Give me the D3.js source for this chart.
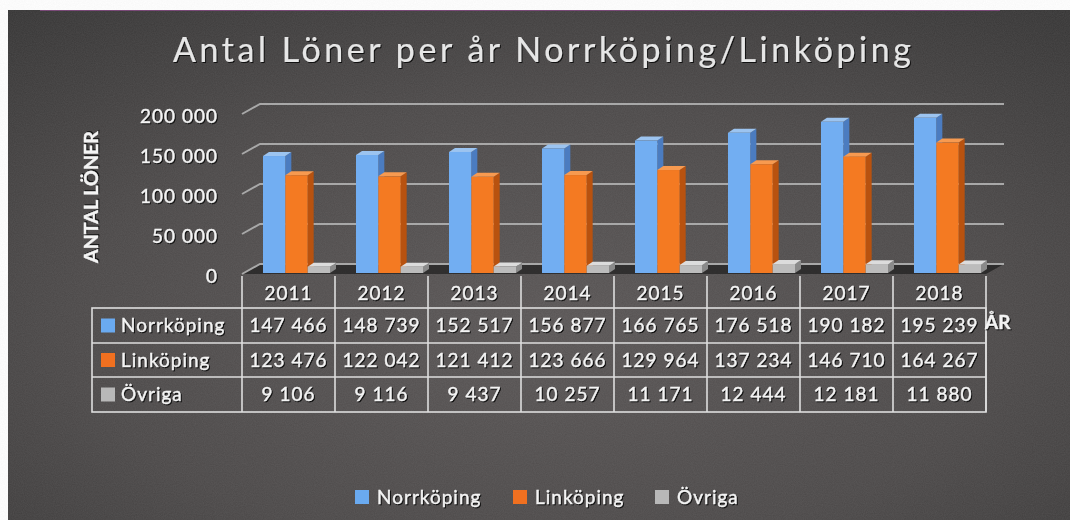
<!DOCTYPE html>
<html>
<head>
<meta charset="utf-8">
<script src="https://cdn.jsdelivr.net/npm/d3@7"></script>
<style>
  body { margin: 0; background: #fff; }
  text { font-family: Lato, "Open Sans", sans-serif; fill: #f4f4f4; }
  .sh { filter: drop-shadow(1px 1px 0.6px #111); stroke: #f4f4f4; stroke-width: 0.45px; }
</style>
</head>
<body>
<div id="chart"></div>
<script>
// data
var years = ["2011", "2012", "2013", "2014", "2015", "2016", "2017", "2018"];
var norrkoping = [147466, 148739, 152517, 156877, 166765, 176518, 190182, 195239];
var linkoping = [123476, 122042, 121412, 123666, 129964, 137234, 146710, 164267];
var ovriga = [9106, 9116, 9437, 10257, 11171, 12444, 12181, 11880];
var seriesNames = ["Norrköping", "Linköping", "Övriga"];
var yTicks = [0, 50000, 100000, 150000, 200000];

var width = 1070, height = 520;
var fmt = v => d3.format(",")(v).replace(/,/g, " ");

var colors = {
  "Norrköping": { front: "#72aef2", side: "#4b7cc0", top: "#9cc4f0", key: "#6aaaf0" },
  "Linköping": { front: "#f47a22", side: "#b8520f", top: "#f79a50", key: "#f07020" },
  "Övriga": { front: "#bcbcbc", side: "#8a8a8a", top: "#dcdcdc", key: "#b8b8b8" }
};
var values = { "Norrköping": norrkoping, "Linköping": linkoping, "Övriga": ovriga };

var svg = d3.select("#chart").append("svg").attr("width", width).attr("height", height);
var defs = svg.append("defs");

var rg = defs.append("radialGradient").attr("id", "bg").attr("cx", "50%").attr("cy", "62%").attr("r", "80%");
rg.append("stop").attr("offset", "0%").attr("stop-color", "#5a5656");
rg.append("stop").attr("offset", "55%").attr("stop-color", "#4c4949");
rg.append("stop").attr("offset", "100%").attr("stop-color", "#363535");

var noise = defs.append("filter").attr("id", "noise");
noise.append("feTurbulence").attr("type", "fractalNoise").attr("baseFrequency", 0.9).attr("numOctaves", 2).attr("seed", 3);
noise.append("feColorMatrix").attr("type", "matrix")
  .attr("values", "0 0 0 0 0.5  0 0 0 0 0.5  0 0 0 0 0.5  0 0 0 0.35 0");

// panel
svg.append("rect").attr("x", 8).attr("y", 10).attr("width", width - 8).attr("height", height - 10).attr("fill", "url(#bg)");
svg.append("rect").attr("x", 8).attr("y", 10).attr("width", width - 8).attr("height", height - 10)
  .attr("filter", "url(#noise)").attr("opacity", 0.35);
svg.append("line").attr("x1", 40).attr("x2", 1000).attr("y1", 10.5).attr("y2", 10.5).attr("stroke", "#7a4a78").attr("stroke-width", 1);

// title
svg.append("text").attr("class", "sh").attr("x", 542).attr("y", 62).attr("text-anchor", "middle")
  .attr("font-size", 34).attr("textLength", 738).attr("lengthAdjust", "spacing")
  .style("fill", "#e6e6e6").style("stroke-width", "0.2px").text("Antal Löner per år Norrköping/Linköping");

// scales (front plane)
var x = d3.scaleBand().domain(years).range([242, 986]);
var xs = d3.scaleBand().domain(seriesNames).range([21, 88]);
var y = d3.scaleLinear().domain([0, 200000]).range([274, 114]);
var wx = 18, wy = -10; // wall depth
var bx = 6, by = -4;   // bar depth

// floor
svg.append("polygon")
  .attr("points", [[242, y(0)], [986, y(0)], [986 + wx, y(0) + wy], [242 + wx, y(0) + wy]].join(" "))
  .attr("fill", "#1e1e1e").attr("opacity", 0.7);

// gridlines
var grid = svg.append("g");
yTicks.forEach(t => {
  grid.append("polyline")
    .attr("points", [[242, y(t)], [242 + wx, y(t) + wy], [986 + wx, y(t) + wy]].join(" "))
    .attr("fill", "none").attr("stroke", "#a8a8a8").attr("stroke-width", 2);
});

// y tick labels
svg.append("g").selectAll("text").data(yTicks).join("text").attr("class", "sh")
  .attr("x", 218).attr("y", d => y(d) + 2).attr("dy", "0.35em").attr("text-anchor", "end")
  .attr("font-size", 19).attr("letter-spacing", 1).text(d => fmt(d));

svg.append("text").attr("class", "sh")
  .attr("transform", "translate(98,197) rotate(-90)").attr("text-anchor", "middle")
  .attr("font-size", 18).attr("font-weight", "bold").attr("textLength", 132).attr("lengthAdjust", "spacingAndGlyphs")
  .text("ANTAL LÖNER");

// bars
var bars = svg.append("g");
years.forEach((yr, i) => {
  seriesNames.forEach(s => {
    var v = values[s][i], c = colors[s];
    var x0 = x(yr) + xs(s), x1 = x0 + xs.bandwidth(), yt = y(v), yb = y(0) - 1;
    var g = bars.append("g");
    g.append("polygon").attr("points", [[x1, yt], [x1 + bx, yt + by], [x1 + bx, yb + by], [x1, yb]].join(" ")).attr("fill", c.side);
    g.append("polygon").attr("points", [[x0, yt], [x0 + bx, yt + by], [x1 + bx, yt + by], [x1, yt]].join(" ")).attr("fill", c.top);
    g.append("rect").attr("x", x0).attr("y", yt).attr("width", x1 - x0).attr("height", yb - yt).attr("fill", c.front);
  });
});

// data table
var rowTop = [276, 308, 343, 377, 412];
var tbl = svg.append("g").attr("stroke", "#dedede").attr("stroke-width", 1.6).attr("fill", "none");
tbl.append("rect").attr("x", 92).attr("y", rowTop[1]).attr("width", 986 - 92).attr("height", rowTop[4] - rowTop[1]);
[rowTop[2], rowTop[3]].forEach(r => tbl.append("line").attr("x1", 92).attr("x2", 986).attr("y1", r).attr("y2", r));
x.domain().concat(["end"]).forEach((yr, i) => {
  var xx = i < years.length ? x(yr) : 986;
  tbl.append("line").attr("x1", xx).attr("x2", xx).attr("y1", rowTop[0]).attr("y2", rowTop[4]);
});

var txt = svg.append("g").attr("font-size", 19).attr("letter-spacing", 1);
txt.selectAll(".yr").data(years).join("text").attr("class", "sh")
  .attr("x", d => x(d) + x.bandwidth() / 2).attr("y", (rowTop[0] + rowTop[1]) / 2 + 1).attr("dy", "0.35em")
  .attr("text-anchor", "middle").text(d => d);

seriesNames.forEach((s, r) => {
  var cy = (rowTop[r + 1] + rowTop[r + 2]) / 2;
  svg.append("rect").attr("x", 101).attr("y", cy - 7).attr("width", 14).attr("height", 14).attr("fill", colors[s].key);
  txt.append("text").attr("class", "sh").attr("x", 121).attr("y", cy).attr("dy", "0.35em").text(s);
  txt.selectAll(".v" + r).data(values[s]).join("text").attr("class", "sh")
    .attr("x", (d, i) => x(years[i]) + x.bandwidth() / 2).attr("y", cy).attr("dy", "0.35em")
    .attr("text-anchor", "middle").text(d => fmt(d));
});

svg.append("text").attr("class", "sh").attr("x", 985).attr("y", 322).attr("dy", "0.35em")
  .attr("font-size", 19).attr("font-weight", "bold").text("ÅR");

// legend
var legendX = [355, 513, 655];
var lg = svg.append("g");
seriesNames.forEach((s, i) => {
  lg.append("rect").attr("x", legendX[i]).attr("y", 490).attr("width", 14).attr("height", 14).attr("fill", colors[s].key);
  lg.append("text").attr("class", "sh").attr("x", legendX[i] + 22).attr("y", 497).attr("dy", "0.35em")
    .attr("font-size", 19).attr("letter-spacing", 1).text(s);
});
</script>
</body>
</html>
